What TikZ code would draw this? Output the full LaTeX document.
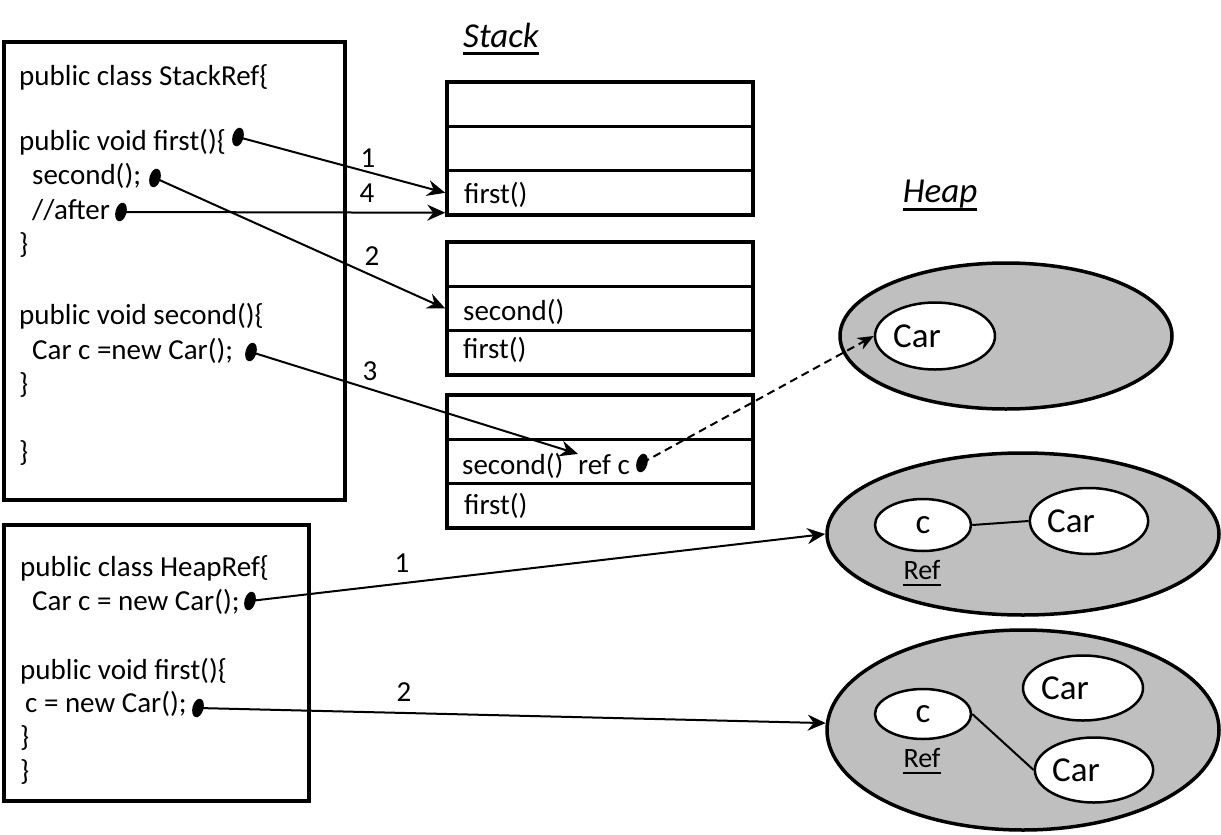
\documentclass[tikz,border=0pt]{standalone}
\usepackage{fontspec}
\setmainfont{Carlito}
\usetikzlibrary{shapes.geometric,arrows.meta,calc}
\definecolor{heapgray}{RGB}{191,191,191}
\tikzset{
  framecell/.style={draw, line width=3.5pt, minimum width=306pt, minimum height=44.3pt, inner sep=0pt},
  codebox/.style={draw, line width=3.5pt, inner sep=0pt},
  txt/.style={anchor=base west, inner sep=0pt, font=\fontsize{29}{35}\selectfont},
  num/.style={anchor=base, inner sep=0pt, font=\fontsize{29}{35}\selectfont},
  blob/.style={ellipse, fill=black, minimum width=11pt, minimum height=19pt, inner sep=0pt, rotate=-15},
  link/.style={line width=2pt, -{Stealth[length=18pt,width=16pt,inset=6pt]}},
  heapell/.style={ellipse, draw, line width=3.5pt, fill=heapgray, inner sep=0pt},
  obj/.style={ellipse, draw, line width=2.5pt, fill=white, inner sep=0pt, font=\fontsize{35}{42}\selectfont},
  titletxt/.style={anchor=base, inner sep=0pt, font=\fontsize{35}{42}\selectfont\itshape},
  reftxt/.style={anchor=base, inner sep=0pt, font=\fontsize{28}{34}\selectfont},
}
\newcommand{\cartxt}{Car\hspace*{36pt}}
\begin{document}
\begin{tikzpicture}[x=1pt,y=-1pt]
\useasboundingbox[fill=white] (0,0) rectangle (1221,835);

% titles
\node[titletxt] (stackt) at (501,47) {Stack};
\draw[line width=3pt] ([yshift=-6pt]stackt.base west) -- ([yshift=-6pt]stackt.base east);
\node[titletxt] (heapt) at (940,202) {Heap};
\draw[line width=3pt] ([yshift=-7pt]heapt.base west) -- ([yshift=-7pt]heapt.base east);

% code boxes
\node[codebox, minimum width=341pt, minimum height=458pt] (sref) at (174.5,271) {};
\node[codebox, minimum width=305pt, minimum height=276pt] (href) at (156.5,663) {};

% StackRef code
\node[txt] (s1) at (19,85) {public class StackRef\{};
\node[txt] (s2) at (19,150) {public void first()\{};
\node[txt] (s3) at (32,184) {second();};
\node[txt] (s4) at (32,219) {//after};
\node[txt] (s5) at (19,253) {\}};
\node[txt] (s6) at (19,324) {public void second()\{};
\node[txt] (s7) at (32,359) {Car c =new Car();};
\node[txt] (s8) at (19,393) {\}};
\node[txt] (s9) at (19,461) {\}};

% HeapRef code
\node[txt] (h1t) at (20,576) {public class HeapRef\{};
\node[txt] (h2t) at (32,610) {Car c = new Car();};
\node[txt] (h3t) at (20,679) {public void first()\{};
\node[txt] (h4t) at (25,712) {c = new Car();};
\node[txt] (h5t) at (20,746) {\}};
\node[txt] (h6t) at (20,780) {\}};

% stack frames
\node[framecell] (f1a) at (600,104.2) {};
\node[framecell] (f1b) at (600,148.5) {};
\node[framecell] (f1c) at (600,192.8) {};
\node[framecell] (f2a) at (600,264.2) {};
\node[framecell] (f2b) at (600,308.5) {};
\node[framecell] (f2c) at (600,352.8) {};
\node[framecell] (f3a) at (600,417.2) {};
\node[framecell] (f3b) at (600,461.5) {};
\node[framecell] (f3c) at (600,505.8) {};

\node[txt] (t1c) at (464,203) {first()};
\node[txt] (t2b) at (463,320) {second()};
\node[txt] (t2c) at (463,358) {first()};
\node[txt] (t3b) at (462,474) {second()};
\node[txt] (refc) at (578,474) {ref c};
\node[txt] (t3c) at (464,514) {first()};

% heap
\node[heapell, minimum width=332pt, minimum height=146pt] (hp1) at (1006,336) {};
\node[obj, minimum width=120pt, minimum height=67pt] (car1) at (935,336) {\cartxt};

\node[heapell, minimum width=392pt, minimum height=162pt] (hp2) at (1023,534) {};
\node[obj, minimum width=96pt, minimum height=52pt] (c2) at (923,525) {c};
\node[obj, minimum width=118pt, minimum height=66pt] (car2) at (1089,521) {\cartxt};
\node[reftxt] (ref2) at (922,579) {Ref};
\draw[line width=2pt] ([yshift=-6pt]ref2.base west) -- ([yshift=-6pt]ref2.base east);
\draw[line width=2pt] (c2.east) -- (car2.west);

\node[heapell, minimum width=392pt, minimum height=200pt] (hp3) at (1023,730) {};
\node[obj, minimum width=96pt, minimum height=50pt] (c3) at (923,714) {c};
\node[obj, minimum width=120pt, minimum height=65pt] (car3a) at (1083,688) {\cartxt};
\node[obj, minimum width=117pt, minimum height=65pt] (car3b) at (1094,770) {\cartxt};
\node[reftxt] (ref3) at (922,767) {Ref};
\draw[line width=2pt] ([yshift=-6pt]ref3.base west) -- ([yshift=-6pt]ref3.base east);
\draw[line width=2pt] (c3.east) -- (car3b.west);

% dots
\node[blob] (dA) at (238,137) {};
\node[blob] (dB) at (155,178) {};
\node[blob] (dC) at (121,212) {};
\node[blob] (dD) at (251,352) {};
\node[blob] (dE) at (642,463) {};
\node[blob] (dF) at (250,601) {};
\node[blob] (dG) at (198,708) {};

% arrows
\draw[link] (dA.center) -- (f1c.west);
\draw[link] (dC.center) -- ($(f1c.south west)+(0,-4)$);
\draw[link] (dB.center) -- (f2b.west);
\draw[link] (dD.center) -- (refc.north west);
\draw[link, dash pattern=on 8pt off 5pt, -{Stealth[length=16pt,width=13pt,inset=5pt]}] (dE.center) -- (car1.west);
\draw[link] (dF.center) -- (hp2.west);
\draw[link] (dG.center) -- (hp3.178);

% arrow numbers
\node[num] (n1) at (368,167) {1};
\node[num] (n4) at (367,202) {4};
\node[num] (n2) at (372,265) {2};
\node[num] (n3) at (370,380) {3};
\node[num] (m1) at (402,572) {1};
\node[num] (m2) at (404,701) {2};
\end{tikzpicture}
\end{document}
